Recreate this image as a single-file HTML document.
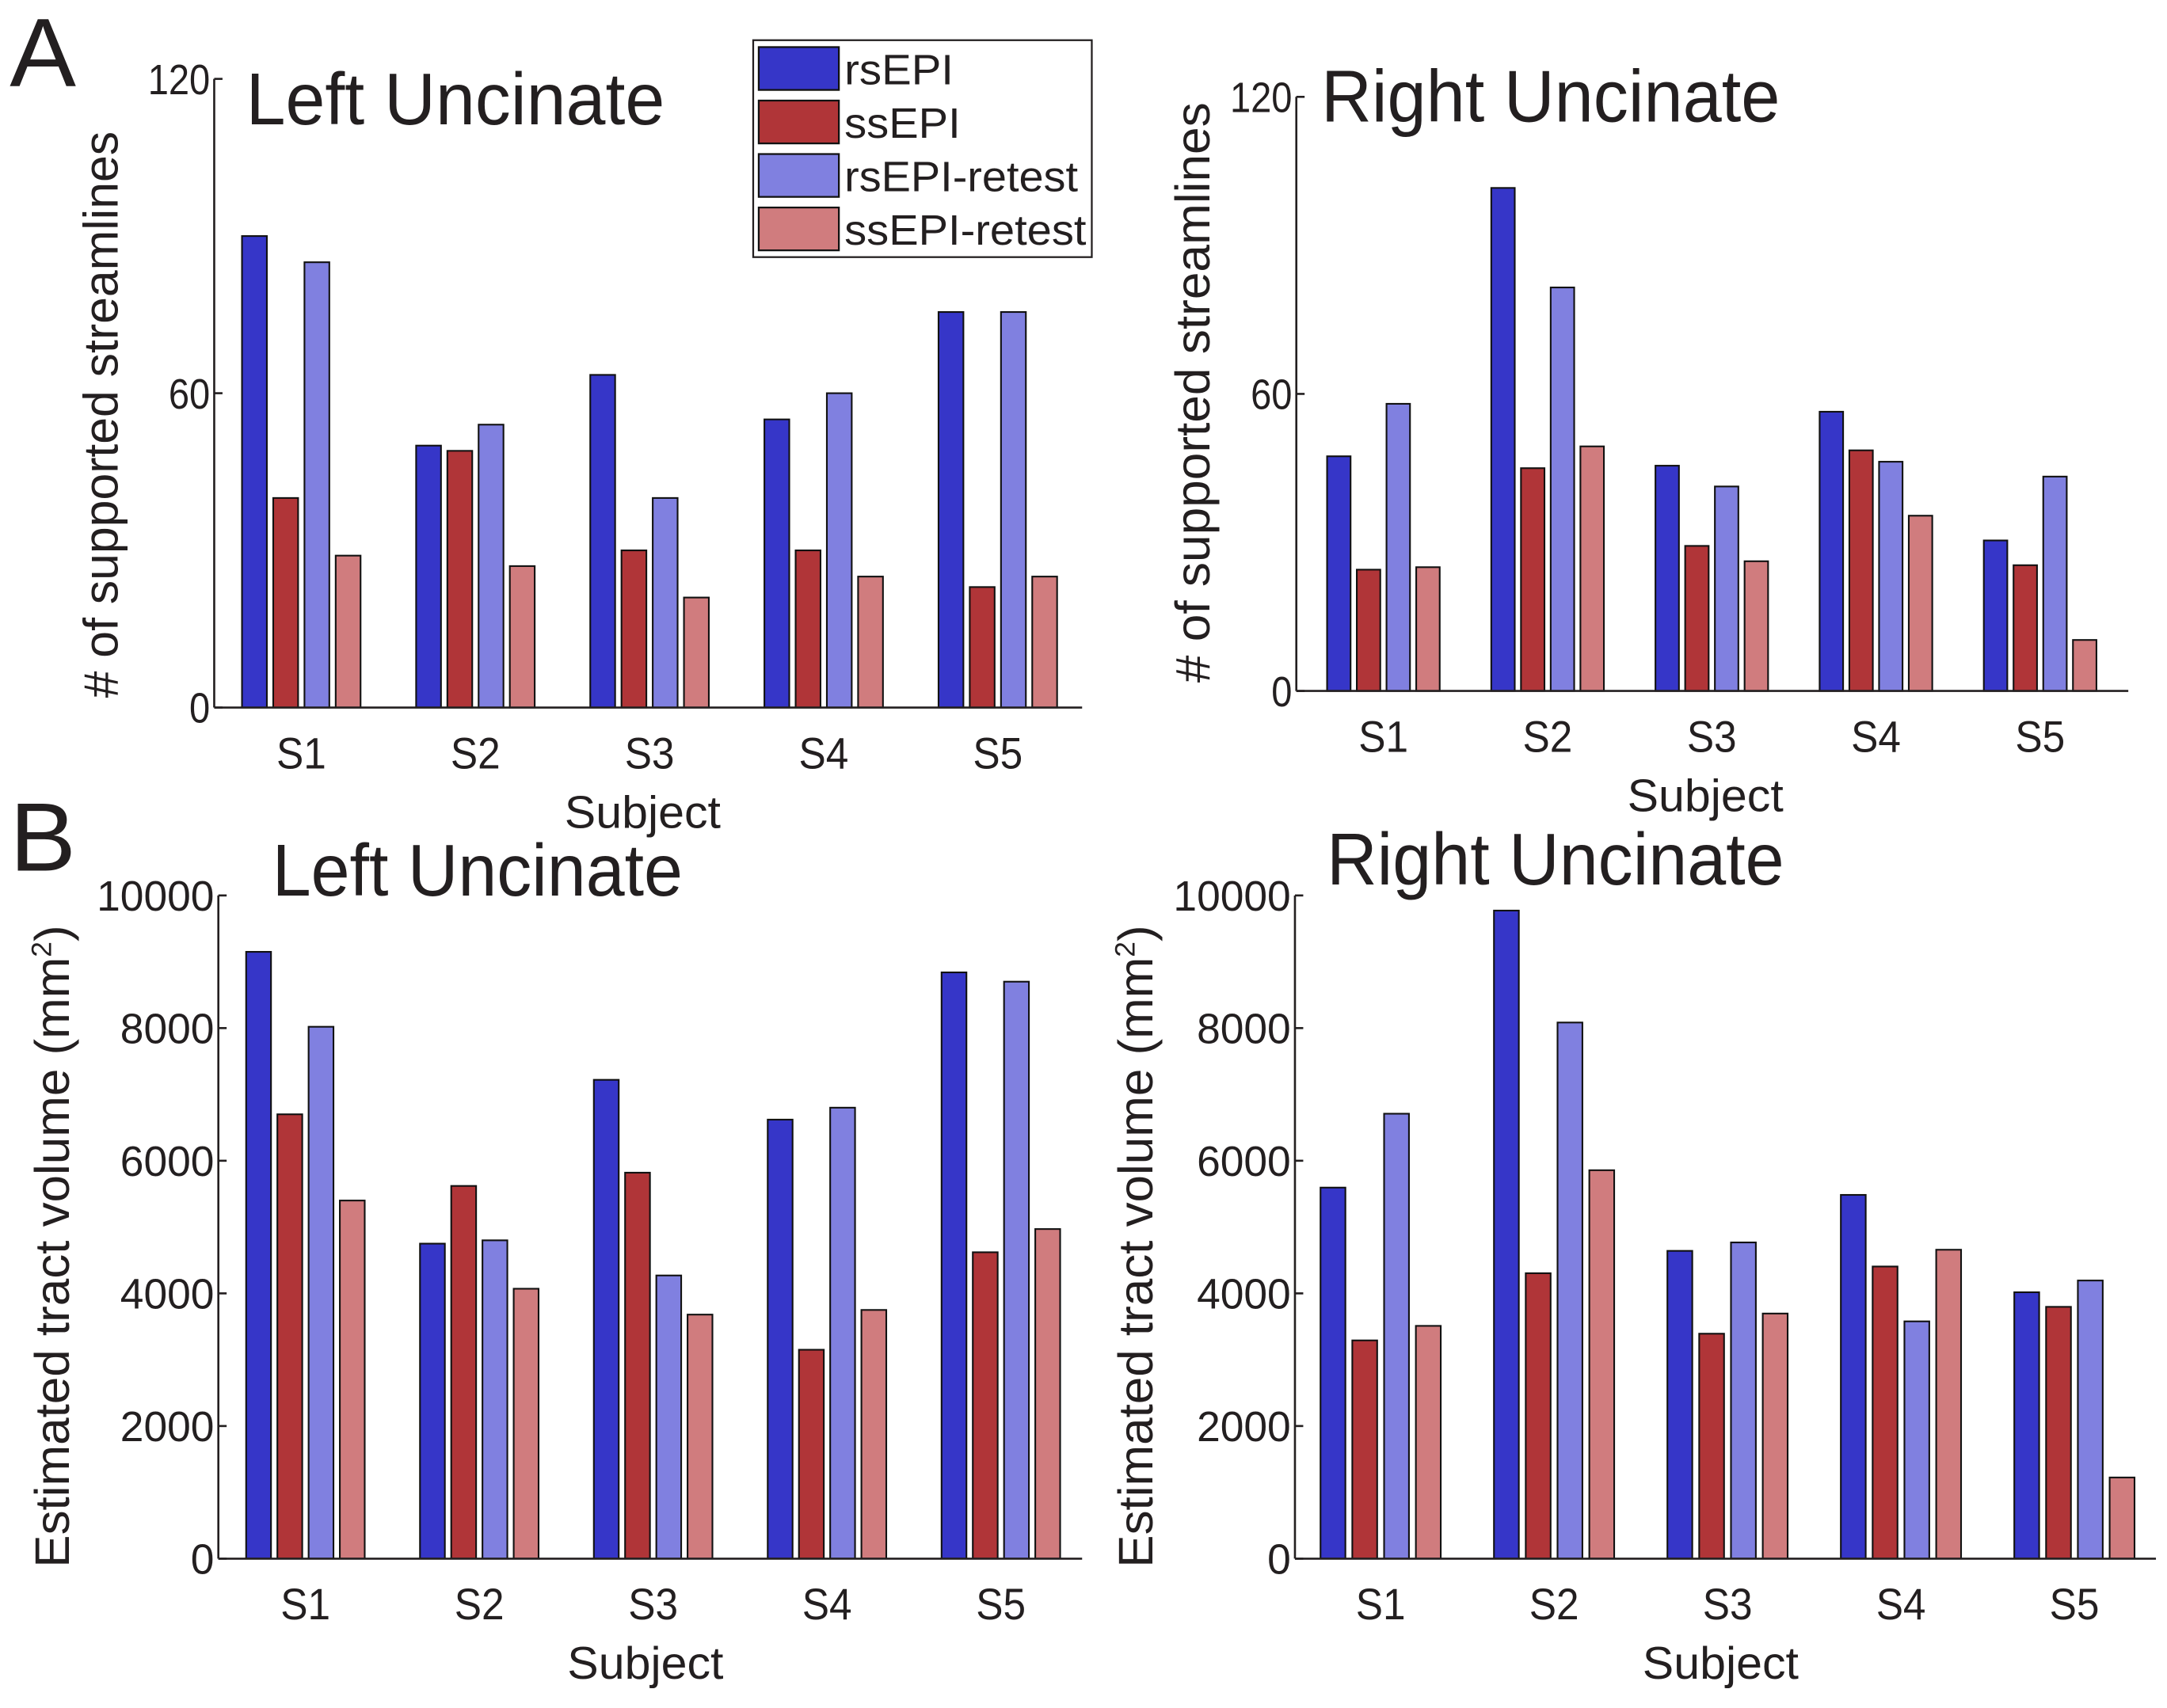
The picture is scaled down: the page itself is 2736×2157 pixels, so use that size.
<!DOCTYPE html>
<html><head><meta charset="utf-8"><style>
html,body{margin:0;padding:0;background:#fff;}
svg{display:block;font-family:"Liberation Sans",sans-serif;}
</style></head><body>
<svg id="fig" width="2736" height="2157" viewBox="0 0 1568 1236" xmlns="http://www.w3.org/2000/svg">
<rect width="1568" height="1236" fill="#fff"/>
<text x="7" y="62" font-size="70" textLength="48" lengthAdjust="spacingAndGlyphs" fill="#231f20">A</text>
<text x="7" y="630" font-size="70" textLength="48" lengthAdjust="spacingAndGlyphs" fill="#231f20">B</text>
</svg>
<script>
const categories = ["S1","S2","S3","S4","S5"];
const seriesNames = ["rsEPI","ssEPI","rsEPI-retest","ssEPI-retest"];
const colors = ["#3636c8","#b03538","#8080e0","#d07c7e"];
const aLeftRs  = [90, 50, 63.5, 55, 75.5];
const aLeftSs  = [40, 49, 30, 30, 23];
const aLeftRsR = [85, 54, 40, 60, 75.5];
const aLeftSsR = [29, 27, 21, 25, 25];
const aRightRs  = [47.4, 101.6, 45.5, 56.4, 30.4];
const aRightSs  = [24.5, 45, 29.3, 48.6, 25.4];
const aRightRsR = [58, 81.5, 41.3, 46.3, 43.3];
const aRightSsR = [25, 49.4, 26.2, 35.4, 10.3];
const bLeftRs  = [9150, 4750, 7220, 6620, 8840];
const bLeftSs  = [6700, 5620, 5820, 3150, 4620];
const bLeftRsR = [8020, 4800, 4270, 6800, 8700];
const bLeftSsR = [5400, 4070, 3680, 3750, 4970];
const bRightRs  = [5595, 9772, 4641, 5485, 4017];
const bRightSs  = [3291, 4304, 3392, 4405, 3797];
const bRightRsR = [6709, 8084, 4768, 3578, 4194];
const bRightSsR = [3510, 5857, 3696, 4658, 1224];
const ticksA = [0, 60, 120];
const ticksB = [0, 2000, 4000, 6000, 8000, 10000];

const NS = "http://www.w3.org/2000/svg";
const svg = document.getElementById("fig");
function el(tag, attrs, parent){
  const e = document.createElementNS(NS, tag);
  for (const k in attrs) e.setAttribute(k, attrs[k]);
  (parent||svg).appendChild(e);
  return e;
}
function panel(cfg){
  const g = el("g", {});
  
  
  const y = v => cfg.y0 - v / cfg.ymax * (cfg.y0 - cfg.yTop);
  const xc = i => cfg.c0 + i * cfg.pitch;
  cfg.series.forEach((vals, s) => {
    vals.forEach((v, i) => {
      const cx = xc(i) + (s - 1.5) * cfg.step;
      const r = el("rect", {x: cx - cfg.bw/2, y: y(v), width: cfg.bw, height: cfg.y0 - y(v),
        fill: colors[s], stroke: "#111", "stroke-width": 1.2}, g);
      
      
    });
  });
  const ya = el("line", {x1: cfg.ax, y1: cfg.yTop, x2: cfg.ax, y2: cfg.y0, stroke: "#231f20", "stroke-width": 1.5}, g);
  
  
  const xa = el("line", {x1: cfg.ax, y1: cfg.y0, x2: cfg.xEnd, y2: cfg.y0, stroke: "#231f20", "stroke-width": 1.5}, g);
  
  
  cfg.ticks.forEach(t => {
    el("line", {x1: cfg.ax, y1: y(t), x2: cfg.ax + 6, y2: y(t), stroke: "#231f20", "stroke-width": 1.5}, g);
    const tl = el("text", {x: cfg.ax - 3, y: y(t) + 11, "font-size": 31, "text-anchor": "end", fill: "#231f20",
      textLength: String(t).length * cfg.digitW, lengthAdjust: "spacingAndGlyphs"}, g);
    tl.textContent = t;
    
    
  });
  categories.forEach((c, i) => {
    const tl = el("text", {x: xc(i), y: cfg.y0 + 44, "font-size": 32, "text-anchor": "middle", fill: "#231f20",
      textLength: 36, lengthAdjust: "spacingAndGlyphs"}, g);
    tl.textContent = c;
    
    
  });
  const xt = el("text", {x: cfg.xtX, y: cfg.y0 + 87, "font-size": 33, "text-anchor": "middle", fill: "#231f20",
    textLength: 113, lengthAdjust: "spacingAndGlyphs"}, g);
  xt.textContent = "Subject";
  
  
  const yt = el("text", {x: 0, y: 0, "font-size": 35, "text-anchor": "middle", fill: "#231f20",
    textLength: cfg.ytLen, lengthAdjust: "spacingAndGlyphs",
    transform: "translate(" + cfg.ytX + "," + cfg.ytY + ") rotate(-90)"}, g);
  yt.innerHTML = cfg.ytitle;
  
  
  const tt = el("text", {x: cfg.titleX, y: cfg.titleY, "font-size": 53, fill: "#231f20",
    textLength: cfg.titleLen, lengthAdjust: "spacingAndGlyphs"}, g);
  tt.textContent = cfg.title;
  
  
}
const volTitle = "Estimated tract volume (mm<tspan font-size='20' dy='-13'>2</tspan><tspan dy='13'>)</tspan>";
panel({name:"panel-a-left", series:[aLeftRs,aLeftSs,aLeftRsR,aLeftSsR], ax:155, xEnd:783, yTop:57, y0:512, ymax:120,
  c0:218, pitch:126, step:22.6, bw:18, ticks:ticksA, digitW:15, xtX:465, ytX:85, ytY:300, ytLen:410,
  ytitle:"# of supported streamlines", title:"Left Uncinate", titleX:178, titleY:90, titleLen:303});
panel({name:"panel-a-right", series:[aRightRs,aRightSs,aRightRsR,aRightSsR], ax:938, xEnd:1540, yTop:70, y0:500, ymax:120,
  c0:1001, pitch:118.8, step:21.5, bw:17, ticks:ticksA, digitW:15, xtX:1234, ytX:875, ytY:284, ytLen:420,
  ytitle:"# of supported streamlines", title:"Right Uncinate", titleX:956, titleY:88, titleLen:332});
panel({name:"panel-b-left", series:[bLeftRs,bLeftSs,bLeftRsR,bLeftSsR], ax:158, xEnd:783, yTop:648, y0:1128, ymax:10000,
  c0:221, pitch:125.8, step:22.6, bw:18, ticks:ticksB, digitW:17, xtX:467, ytX:50, ytY:902, ytLen:465,
  ytitle:volTitle, title:"Left Uncinate", titleX:197, titleY:648, titleLen:297});
panel({name:"panel-b-right", series:[bRightRs,bRightSs,bRightRsR,bRightSsR], ax:937, xEnd:1560, yTop:648, y0:1128, ymax:10000,
  c0:999, pitch:125.5, step:23, bw:18, ticks:ticksB, digitW:17, xtX:1245, ytX:834, ytY:902, ytLen:465,
  ytitle:volTitle, title:"Right Uncinate", titleX:960, titleY:640, titleLen:331});

const legendLens = [79, 84, 169, 175];
const lg = el("g", {});


el("rect", {x: 545, y: 29, width: 245, height: 157, fill: "#fff", stroke: "#231f20", "stroke-width": 1.3}, lg);
seriesNames.forEach((n, s) => {
  const yy = 34 + s * 38.7;
  const p = el("rect", {x: 549, y: yy, width: 58, height: 31, fill: colors[s], stroke: "#111", "stroke-width": 1.3}, lg);
  
  
  const t = el("text", {x: 611, y: yy + 27, "font-size": 31, fill: "#231f20",
    textLength: legendLens[s], lengthAdjust: "spacingAndGlyphs"}, lg);
  t.textContent = n;
  
  
});
</script>
</body></html>
